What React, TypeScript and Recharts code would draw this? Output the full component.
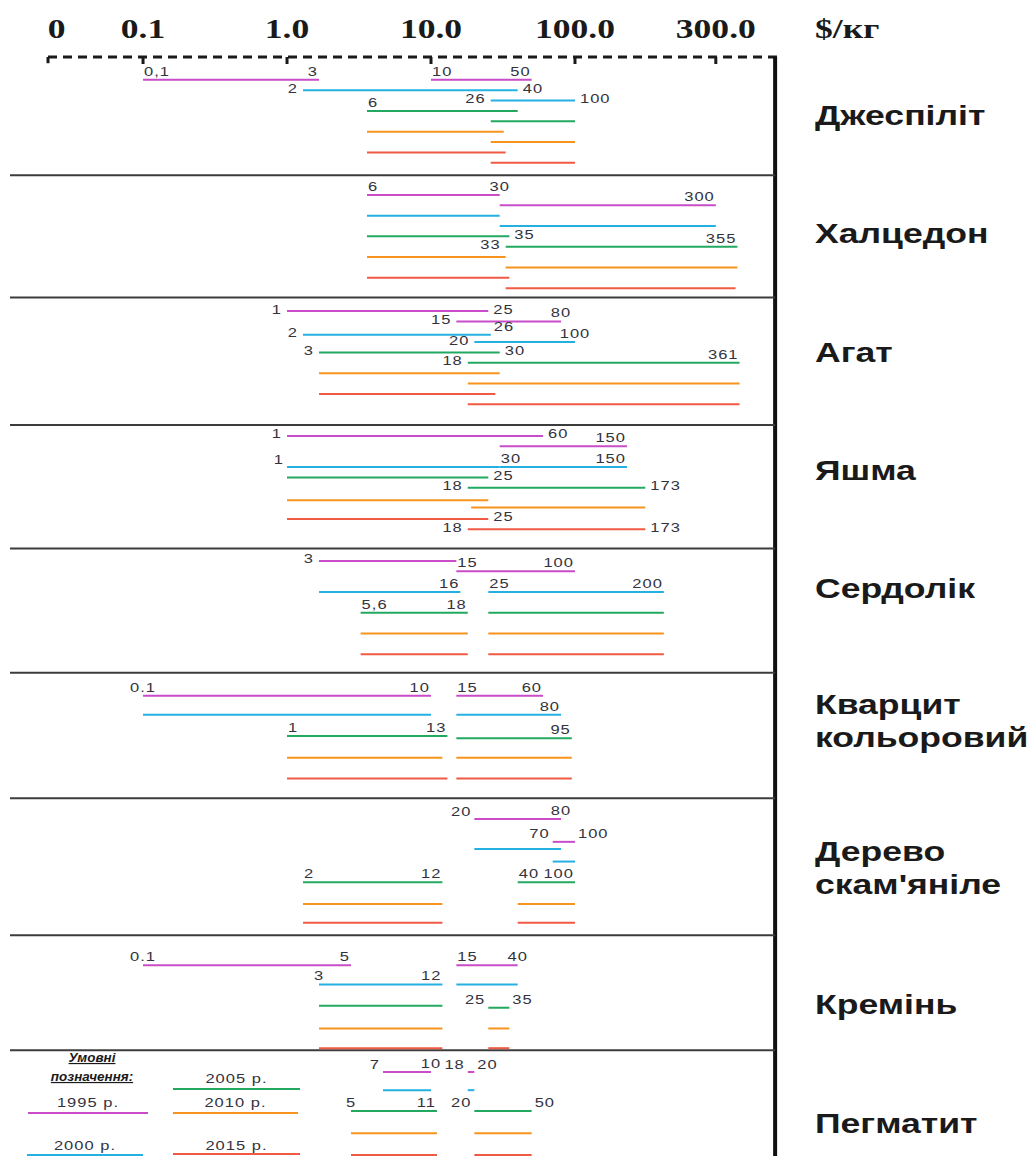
import { Legend, LabelList, Line, LineChart, ReferenceLine, XAxis, YAxis } from "recharts";

const years = ["1995 р.", "2000 р.", "2005 р.", "2010 р.", "2015 р."];
const minerals = [
  "Джеспіліт",
  "Халцедон",
  "Агат",
  "Яшма",
  "Сердолік",
  "Кварцит кольоровий",
  "Дерево скам'яніле",
  "Кремінь",
  "Пегматит",
];

// price ranges, $/кг: one list per year (1995..2015), one or two ranges each
const dzhespilit = [
  [[0.1, 3], [10, 50]],
  [[2, 40], [26, 100]],
  [[6, 40], [26, 100]],
  [[6, 32], [26, 100]],
  [[6, 33], [26, 100]],
];
const khaltsedon = [
  [[6, 30], [30, 300]],
  [[6, 30], [30, 300]],
  [[6, 35], [33, 355]],
  [[6, 33], [33, 355]],
  [[6, 35], [33, 350]],
];
const ahat = [
  [[1, 25], [15, 80]],
  [[2, 26], [20, 100]],
  [[3, 30], [18, 361]],
  [[3, 30], [18, 361]],
  [[3, 28], [18, 361]],
];
const yashma = [
  [[1, 60], [30, 150]],
  [[1, 30], [30, 150]],
  [[1, 25], [18, 173]],
  [[1, 25], [19, 173]],
  [[1, 25], [18, 173]],
];
const serdolik = [
  [[3, 15], [15, 100]],
  [[3, 16], [25, 200]],
  [[5.6, 18], [25, 200]],
  [[5.6, 18], [25, 200]],
  [[5.6, 18], [25, 200]],
];
const kvartsyt = [
  [[0.1, 10], [15, 60]],
  [[0.1, 10], [15, 80]],
  [[1, 13], [15, 95]],
  [[1, 12], [15, 95]],
  [[1, 13], [15, 95]],
];
const derevo = [
  [[20, 80], [70, 100]],
  [[20, 80], [70, 100]],
  [[2, 12], [40, 100]],
  [[2, 12], [40, 100]],
  [[2, 12], [40, 100]],
];
const kremin = [
  [[0.1, 5], [15, 40]],
  [[3, 12], [15, 40]],
  [[3, 12], [25, 35]],
  [[3, 12], [25, 35]],
  [[3, 12], [25, 35]],
];
const pehmatyt = [
  [[7, 10], [18, 20]],
  [[7, 10], [18, 20]],
  [[5, 11], [20, 50]],
  [[5, 11], [20, 50]],
  [[5, 11], [20, 50]],
];
const prices = [dzhespilit, khaltsedon, ahat, yashma, serdolik, kvartsyt, derevo, kremin, pehmatyt];

const decimalMarks = [",", ",", ",", ",", ",", ".", ",", ".", ","];

const axisTicks = [0, 0.1, 1, 10, 100, 300];
const axisTickLabels = ["0", "0.1", "1.0", "10.0", "100.0", "300.0"];

// value labels per year: start/end of range 1, start/end of range 2
// a = above, inside; c = above, centred; o = beside; u = beside, raised; - = none
const labelSpots = [
  ["aaaa", "oooo", "a---", "----", "----"],
  ["ac-a", "----", "-ooa", "----", "----"],
  ["oooc", "ouoc", "oooa", "----", "----"],
  ["oo-a", "u-aa", "-ooo", "----", "-ooo"],
  ["o-aa", "-aaa", "aa--", "----", "----"],
  ["caaa", "---a", "aa-a", "----", "----"],
  ["ucuu", "----", "aaaa", "----", "----"],
  ["caac", "ca--", "--uu", "----", "----"],
  ["ucuu", "----", "cauu", "----", "----"],
];

const colors = ["#c94cc9", "#25b0e2", "#22a85f", "#f7941e", "#f05a44"];

// vertical layout in line slots
const Y_MAX = 106;
const rowTops = [0, 11.4, 23.2, 35.5, 47.4, 59.4, 71.5, 84.7, 95.8];
const rowLeads = [2.2, 1.9, 1.3, 1.05, 1.2, 2.2, 2.0, 2.9, 2.1];
const tracks = [
  [[0, 0], [1, 2], [3, 4], [5, 6], [7, 8]],
  [[0, 1], [2, 3], [4, 5], [6, 7], [8, 9]],
  [[0, 1], [2.3, 3], [4, 5], [6, 7], [8, 9]],
  [[0, 1], [3, 3], [4, 5], [6.2, 6.9], [8, 9]],
  [[0, 1], [3, 3], [5, 5], [7, 7], [9, 9]],
  [[0, 0], [1.85, 1.85], [3.9, 4.1], [6, 6], [8, 8]],
  [[0, 2.2], [2.9, 4.1], [6.1, 6.1], [8.2, 8.2], [10, 10]],
  [[0, 0], [1.85, 1.85], [3.9, 4.1], [6.1, 6.1], [8, 8]],
  [[0, 0], [1.75, 1.75], [3.75, 3.75], [5.9, 5.9], [8, 8]],
];
const nameTicks = [5.6, 17.0, 28.5, 39.8, 51.2, 64.0, 78.2, 91.3, 102.8];

// price axis: log below 1, linear within 1–10, log 10–100, stretched log above 100
const ZERO_POS = -1.6;
function pricePos(v: number) {
  if (v <= 0) return ZERO_POS;
  if (v < 1) return Math.log10(v);
  if (v <= 10) return (v - 1) / 9;
  if (v <= 100) return Math.log10(v);
  return 2 + 2.05 * Math.log10(v / 100);
}
const X_MIN = -1.924;
const X_MAX = 3.41;
const DASH_START = -1.66;
const FRAME_X = 3.39;

const STRETCH = 1.27;
const INK = "#1a1a1a";
const SANS = "'Liberation Sans', Arial, sans-serif";
const SERIF = "'Liberation Serif', 'Times New Roman', serif";

type Seg = {
  key: string;
  color: string;
  pts: { x: number; y: number; v: number }[];
  spots: string;
  mark: string;
};

const segments: Seg[] = [];
prices.forEach((rows, m) =>
  rows.forEach((ranges, yi) =>
    ranges.forEach((r, k) => {
      const y = rowTops[m] + rowLeads[m] + tracks[m][yi][k];
      segments.push({
        key: `${m}-${yi}-${k}`,
        color: colors[yi],
        pts: r.map((v) => ({ x: pricePos(v), y, v })),
        spots: labelSpots[m][yi].slice(k * 2, k * 2 + 2),
        mark: decimalMarks[m],
      });
    })
  )
);

function valueLabel(p: any, spot: string, side: number, mark: string) {
  if (!spot || spot === "-") return null;
  const { x, y, value } = p;
  let tx = x;
  let ty = y;
  let anchor = "start";
  if (spot === "a") {
    tx = side ? x - 1 : x + 1;
    ty = y - 4;
    anchor = side ? "end" : "start";
  } else if (spot === "c") {
    ty = y - 4;
    anchor = "middle";
  } else if (spot === "o") {
    tx = side ? x + 5 : x - 5;
    ty = y + 2.5;
    anchor = side ? "start" : "end";
  } else if (spot === "u") {
    tx = side ? x + 3 : x - 3;
    ty = y - 3.5;
    anchor = side ? "start" : "end";
  }
  return (
    <text
      transform={`translate(${tx},${ty}) scale(${STRETCH},1)`}
      textAnchor={anchor}
      fontSize={13}
      letterSpacing={0.8}
      fontFamily={SANS}
      fill="#33333d"
    >
      {String(value).replace(".", mark)}
    </text>
  );
}

function PriceTick(props: any) {
  const { x, y, index } = props;
  return (
    <g>
      <text
        transform={`translate(${x},${y - 19}) scale(${STRETCH},1)`}
        textAnchor="middle"
        fontFamily={SERIF}
        fontWeight="bold"
        fontSize={28}
        fill={INK}
      >
        {axisTickLabels[index]}
      </text>
      {index > 0 && <line x1={x} x2={x} y1={y} y2={y + 7} stroke={INK} strokeWidth={3} />}
    </g>
  );
}

function UnitLabel(props: any) {
  const vb = props.viewBox;
  return (
    <text
      transform={`translate(${vb.x + vb.width + 37},38) scale(${STRETCH},1)`}
      fontFamily={SERIF}
      fontWeight="bold"
      fontSize={28}
      fill={INK}
    >
      $/кг
    </text>
  );
}

function NameTick(props: any) {
  const { x, y, index } = props;
  const lines = minerals[index].split(" ");
  return (
    <g>
      {lines.map((t, i) => (
        <text
          key={t}
          transform={`translate(${x + 37},${y + 10 + (i - (lines.length - 1) / 2) * 33}) scale(${STRETCH},1)`}
          fontFamily={SANS}
          fontWeight="bold"
          fontSize={28}
          fill={INK}
        >
          {t}
        </text>
      ))}
    </g>
  );
}

// key: heading on the left, years in two columns
const keySpots = [
  { x1: 28, x2: 148, line: 68, base: 62 },
  { x1: 27, x2: 143, line: 110, base: 105 },
  { x1: 173, x2: 300, line: 44, base: 38 },
  { x1: 173, x2: 298, line: 68, base: 62 },
  { x1: 173, x2: 300, line: 109, base: 105 },
];

function YearKey() {
  return (
    <svg width={330} height={111}>
      <g
        fontFamily={SANS}
        fontWeight="bold"
        fontStyle="italic"
        fontSize={12}
        fill={INK}
        textDecoration="underline"
      >
        <text transform={`translate(92,17) scale(1.12,1)`} textAnchor="middle">Умовні</text>
        <text transform={`translate(92,36) scale(1.12,1)`} textAnchor="middle">позначення:</text>
      </g>
      {years.map((label, i) => {
        const s = keySpots[i];
        return (
          <g key={label}>
            <text
              transform={`translate(${(s.x1 + s.x2) / 2},${s.base}) scale(${STRETCH},1)`}
              textAnchor="middle"
              fontFamily={SANS}
              fontSize={13}
              letterSpacing={0.8}
              fill="#33333d"
            >
              {label}
            </text>
            <line x1={s.x1} x2={s.x2} y1={s.line} y2={s.line} stroke={colors[i]} strokeWidth={2} />
          </g>
        );
      })}
    </svg>
  );
}

export default function App() {
  return (
    <div style={{ position: "absolute", left: 0, top: 0, background: "#fff" }}>
      <LineChart width={1035} height={1156} margin={{ top: 1, right: 0, bottom: 0, left: 10 }}>
        <XAxis
          type="number"
          dataKey="x"
          orientation="top"
          domain={[X_MIN, X_MAX]}
          allowDataOverflow
          ticks={axisTicks.map(pricePos)}
          interval={0}
          height={56}
          tickSize={0}
          tickMargin={0}
          tickLine={false}
          axisLine={false}
          tick={<PriceTick />}
          label={(p: any) => <UnitLabel {...p} />}
        />
        <YAxis
          type="number"
          orientation="right"
          domain={[0, Y_MAX]}
          reversed
          allowDataOverflow
          width={257}
          ticks={nameTicks}
          interval={0}
          tickSize={0}
          tickMargin={0}
          tickLine={false}
          axisLine={false}
          tick={<NameTick />}
        />
        <Legend
          layout="horizontal"
          verticalAlign="middle"
          align="center"
          content={() => <YearKey />}
          wrapperStyle={{ left: 0, top: 1045, width: 330, height: 111 }}
        />

        {/* dashed price axis with the frame on the right */}
        <ReferenceLine
          segment={[{ x: DASH_START, y: 0 }, { x: X_MAX, y: 0 }]}
          stroke={INK}
          strokeWidth={3}
          strokeDasharray="9 6"
          ifOverflow="visible"
        />
        <ReferenceLine
          segment={[{ x: DASH_START, y: 0 }, { x: DASH_START, y: 0.6 }]}
          stroke={INK}
          strokeWidth={3}
          ifOverflow="visible"
        />
        <ReferenceLine
          segment={[{ x: FRAME_X, y: 0 }, { x: FRAME_X, y: Y_MAX }]}
          stroke="#111"
          strokeWidth={4}
          ifOverflow="visible"
        />
        {rowTops.slice(1).map((t) => (
          <ReferenceLine
            key={t}
            segment={[{ x: X_MIN, y: t }, { x: FRAME_X, y: t }]}
            stroke="#3c3c3c"
            strokeWidth={2}
            ifOverflow="visible"
          />
        ))}

        {segments.map((s) => (
          <Line
            key={s.key}
            data={s.pts}
            dataKey="y"
            stroke={s.color}
            strokeWidth={2}
            dot={false}
            activeDot={false}
            legendType="none"
            isAnimationActive={false}
          >
            <LabelList
              dataKey="v"
              content={(p: any) => valueLabel(p, s.spots[p.index], p.index, s.mark)}
            />
          </Line>
        ))}
      </LineChart>
    </div>
  );
}
